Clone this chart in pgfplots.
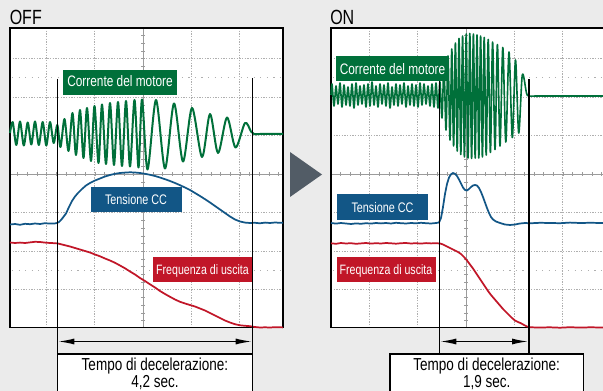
\documentclass[border=0pt]{standalone}
\usepackage{fontspec}
\setmainfont{Liberation Sans}[FakeStretch=0.78]
\usepackage{pgfplots}
\pgfplotsset{compat=1.18}
\usetikzlibrary{arrows.meta}
\definecolor{bg}{RGB}{235,235,235}
\definecolor{mgreen}{RGB}{0,112,58}
\definecolor{mblue}{RGB}{18,86,134}
\definecolor{mred}{RGB}{193,22,40}
\definecolor{gridc}{RGB}{175,175,175}
\definecolor{axc}{RGB}{155,155,155}
\definecolor{arrowc}{RGB}{82,92,102}
\tikzset{
  gridline/.style={gridc, line width=0.6pt, dash pattern=on 0.9pt off 1.1pt},
  sparseline/.style={gridc, line width=0.7pt, dash pattern=on 0.9pt off 4pt},
  centerline/.style={axc, line width=0.7pt},
  hticks/.style={axc, line width=3pt, dash pattern=on 0.6pt off 6.645pt},
  vticks/.style={axc, line width=3pt, dash pattern=on 0.6pt off 5.175pt},
  lbl/.style={anchor=base, text=white, inner sep=0pt},
  dbl/.style={{Latex[length=12pt,width=4.5pt]}-{Latex[length=12pt,width=4.5pt]}, line width=1pt},
}
\begin{document}
\begin{tikzpicture}
\begin{axis}[
  x=0.75pt, y=0.75pt, y dir=reverse,
  xmin=0, xmax=603, ymin=0, ymax=391,
  hide axis, clip=true,
]
% background and panels
\fill[bg] (axis cs:0,0) rectangle (axis cs:603,391);
\fill[white] (axis cs:10,28) rectangle (axis cs:283,327.5);
\fill[white] (axis cs:331,28) rectangle (axis cs:603,327.5);
% grid OFF
\pgfplotsinvokeforeach{46.4,94.7,191.3,239.6}{\draw[gridline] (axis cs:#1,28) -- (axis cs:#1,327.5);}
\pgfplotsinvokeforeach{58.5,97,135.5,212.5,251,289.5}{\draw[gridline] (axis cs:10,#1) -- (axis cs:283,#1);}
\pgfplotsinvokeforeach{77.75,270.25}{\draw[sparseline] (axis cs:12,#1) -- (axis cs:283,#1);}
\draw[centerline] (axis cs:143,28) -- (axis cs:143,327.5);
\draw[centerline] (axis cs:10,174) -- (axis cs:283,174);
\draw[hticks] (axis cs:17.42,174) -- (axis cs:283,174);
\draw[vticks] (axis cs:143,35.4) -- (axis cs:143,327.5);
% grid ON
\pgfplotsinvokeforeach{369.4,417.7,514.3,562.6}{\draw[gridline] (axis cs:#1,28) -- (axis cs:#1,327.5);}
\pgfplotsinvokeforeach{58.5,97,135.5,212.5,251,289.5}{\draw[gridline] (axis cs:331,#1) -- (axis cs:603,#1);}
\pgfplotsinvokeforeach{77.75,270.25}{\draw[sparseline] (axis cs:333,#1) -- (axis cs:603,#1);}
\draw[centerline] (axis cs:466,28) -- (axis cs:466,327.5);
\draw[centerline] (axis cs:331,174) -- (axis cs:603,174);
\draw[hticks] (axis cs:340.4,174) -- (axis cs:603,174);
\draw[vticks] (axis cs:466,35.4) -- (axis cs:466,327.5);
% frames
\draw[black, line width=1pt] (axis cs:10,28) rectangle (axis cs:283,327.5);
\draw[black, line width=1pt] (axis cs:603,28) -- (axis cs:331,28) -- (axis cs:331,327.5) -- (axis cs:603,327.5);

% ===== OFF signals =====
\addplot[mgreen, line width=1.5pt, smooth, tension=0.5, line join=round] coordinates {
(10,133) (12.7,122) (16.3,145) (20,121.5) (23.8,145.5) (27.7,122.5) (31.3,144.5) (35,121.5)
(38.8,145) (42.7,122) (46.3,145.5) (50,122) (53.7,143) (57.3,125) (60.5,147) (64.5,119)
(68.5,151) (72.5,113) (76,155) (80,110) (83.5,158) (87,108) (91,161) (94.5,106)
(98.5,163) (102,104.5) (106,164) (110,103) (114,165) (118,102) (122,166) (126,101)
(130,166.5) (134.5,100) (138.5,167.5) (142,99.5) (147.5,169.5) (156,100) (165,168.5)
(174,103.5) (183,161.5) (192,108) (202,157) (210,114) (218,153) (227,117.5) (235.5,147.5)
(245,123) (251,131.5) (254,134) (260,134) (283,134)
};
\addplot[mblue, line width=1.3pt, line join=round] coordinates {
(10,224.5) (15,224) (20,224.8) (25,223.8) (30,224.2) (35,223.5) (40,224) (45,223.2)
(50,223.6) (55,223.4) (57,223) (59,222) (61,220) (63,217.5) (66,213.5) (69,207) (72,201)
(75,196.5) (78,193) (82,189) (86,185.5) (90,183) (95,180.5) (100,178.5) (105,176.5)
(110,175) (115,173.8) (120,173) (125,172.6) (130,172.3) (135,172.5) (140,173) (145,173.8)
(150,174.8) (155,176) (160,177.5) (165,179.2) (170,181) (175,183) (180,185.2) (185,187.5)
(190,190) (195,193) (200,196) (205,199.2) (210,202.5) (215,206) (220,209.5) (225,213)
(230,216.5) (235,219.5) (240,221.5) (245,222.6) (250,223) (255,222.8) (260,223.3)
(265,222.6) (270,223) (275,222.5) (280,222.8) (283,222.7)
};
\addplot[mred, line width=1.3pt, line join=round] coordinates {
(10,242.5) (15,243) (20,242.6) (25,243) (30,242.4) (35,241.8) (40,242) (45,242.6)
(50,243) (55,243.2) (58,243.5) (62,244.5) (66,245.5) (70,246.5) (75,248) (80,249.5)
(85,251) (90,252.5) (95,254.5) (100,256.3) (105,258.5) (110,260.5) (115,262.8)
(120,265.5) (125,268.3) (130,271.5) (135,274.5) (140,278) (145,281) (150,284.3)
(155,287.5) (160,291) (165,294) (170,296.8) (175,299.5) (180,301.8) (185,303.5)
(190,305) (195,306.5) (200,308.5) (205,310.5) (210,313) (215,315.5) (220,318)
(225,320.5) (230,322.5) (235,324.2) (240,325.3) (245,325.8) (250,326.2) (255,327)
(260,327.5) (265,327.3) (270,327.5) (275,327.2) (283,327.4)
};

% ===== ON signals =====
\addplot[mgreen, line width=1.2pt, smooth, tension=0.5, line join=round] coordinates {
(331,95) (332,84) (334,106) (336,86) (338,104) (340,83) (342,107) (344,85) (346,105)
(348,87) (350,106) (352,84) (354,108) (356,83) (358,105) (360,86) (362,104) (364,85)
(366,107) (368,84) (370,106) (372,82) (374,105) (376,86) (378,107) (380,84) (382,104)
(384,85) (386,106) (388,83) (390,108) (392,87) (394,105) (396,84) (398,106) (400,85)
(402,104) (404,83) (406,107) (408,86) (410,105) (412,84) (414,106) (416,85) (418,107)
(420,83) (422,105) (424,84) (426,104) (428,86) (430,106) (432,84) (434,107) (436,83)
(438,108) (440,82) (442,118) (444,66) (446,130) (448,56) (450,140) (451.8,49)
(453.6,146) (455.4,43) (457.2,151) (459,38.5) (460.8,154.5) (462.6,36) (464.4,157)
(466.2,34) (468,158) (469.8,33.5) (471.6,158.5) (473.4,34) (475.2,158) (477,35)
(478.8,158) (480.6,36) (482.4,157) (484.2,37.5) (486.2,155) (488.2,39.5) (490.4,152.5)
(492.6,42) (495,149.5) (497.4,44.5) (500,146) (502.8,47.5) (505.8,142) (509,52)
(512.3,137.5) (515.5,60) (518.7,133) (522.3,75) (526.5,93) (529,96) (540,96) (603,96)
};
\addplot[mblue, line width=1.3pt, line join=round] coordinates {
(331,223) (336,223.6) (341,223) (346,223.5) (351,224) (356,223.4) (361,223.8) (366,223.2)
(371,223.6) (376,223) (381,223.4) (386,223) (391,223.5) (396,222.8) (401,223.2)
(406,223.5) (411,223) (416,223.3) (421,222.8) (426,223.2) (431,223.5) (436,223)
(439,222.5) (441,218) (443,207) (445,194) (447,184) (449,177.5) (451,174.3) (453,173)
(455,173.8) (457,176) (459,179.5) (461,183.5) (463,187.5) (465,190) (467,190.5)
(469,189) (471,187) (473,185.5) (475,185) (477,185.5) (479,188) (481,192) (483,197)
(485,202.5) (487,208) (489,213) (491,217) (493,219.5) (496,221.5) (500,223) (505,224.5)
(510,225) (515,224.5) (520,223.5) (525,223) (530,223.3) (540,222.8) (550,223)
(560,223.2) (570,222.6) (580,223) (590,222.8) (603,223)
};
\addplot[mred, line width=1.3pt, line join=round] coordinates {
(331,243.3) (336,243.8) (341,243) (346,243.5) (351,243.2) (356,243.8) (361,243.4)
(366,243) (371,243.6) (376,243.2) (381,243.5) (386,243) (391,243.3) (396,243.7)
(401,243.2) (406,243) (411,243.5) (416,243.2) (421,243.6) (426,243.1) (431,243.4)
(436,243.2) (440,243.5) (443,244.5) (446,246) (449,247.5) (452,249) (455,250.5)
(458,252) (461,254) (464,257) (467,260.5) (470,264.5) (473,268.5) (476,273) (479,277.5)
(482,282) (485,286.5) (488,291) (491,295) (494,298.5) (497,302) (500,305.5) (503,309)
(506,312) (509,315) (512,318) (515,320.5) (518,322) (521,323.3) (524,325) (527,326.5)
(530,327.3) (540,327.5) (550,327.3) (560,327.7) (570,327.2) (580,327.6) (590,327.3)
(603,327.5)
};

% markers
\draw[black, line width=1pt] (axis cs:57.3,79) -- (axis cs:57.3,354);
\draw[black, line width=1pt] (axis cs:252.7,78) -- (axis cs:252.7,354);
\draw[black, line width=1pt] (axis cs:439.3,79) -- (axis cs:439.3,354);
\draw[black, line width=1pt] (axis cs:529,79) -- (axis cs:529,354);

% label boxes OFF
\fill[mgreen] (axis cs:63,70) rectangle (axis cs:177,95);
\node[lbl, font=\fontsize{11.4}{12}\selectfont] at (axis cs:120,86.7) {Corrente del motore};
\fill[mblue] (axis cs:91,187) rectangle (axis cs:182,212);
\node[lbl, font=\fontsize{10.4}{12}\selectfont] at (axis cs:136,205) {Tensione CC};
\fill[mred] (axis cs:153,257) rectangle (axis cs:252,282);
\node[lbl, font=\fontsize{10.2}{12}\selectfont] at (axis cs:202.5,274.3) {Frequenza di uscita};
% label boxes ON
\fill[mgreen] (axis cs:336,56) rectangle (axis cs:449,81);
\node[lbl, font=\fontsize{11.4}{12}\selectfont] at (axis cs:392.5,74.3) {Corrente del motore};
\fill[mblue] (axis cs:337,194.5) rectangle (axis cs:428,220.5);
\node[lbl, font=\fontsize{10.4}{12}\selectfont] at (axis cs:382.5,213) {Tensione CC};
\fill[mred] (axis cs:337,257.3) rectangle (axis cs:436,281.7);
\node[lbl, font=\fontsize{10.2}{12}\selectfont] at (axis cs:386,274.3) {Frequenza di uscita};

% arrows
\draw[dbl] (axis cs:58.3,341.5) -- (axis cs:251.7,341.5);
\draw[dbl] (axis cs:440.3,341.5) -- (axis cs:528,341.5);

% bottom boxes
\fill[white] (axis cs:57.3,354) rectangle (axis cs:252.7,391);
\draw[black, line width=1pt] (axis cs:57.3,392) -- (axis cs:57.3,354) -- (axis cs:252.7,354) -- (axis cs:252.7,392);
\node[anchor=base, inner sep=0pt, font=\fontsize{13}{14}\selectfont] at (axis cs:155,370.3) {Tempo di decelerazione:};
\node[anchor=base, inner sep=0pt, font=\fontsize{13}{14}\selectfont] at (axis cs:155,387.5) {4,2 sec.};
\fill[white] (axis cs:390,354) rectangle (axis cs:583.3,391);
\draw[black, line width=1pt] (axis cs:390,392) -- (axis cs:390,354) -- (axis cs:583.3,354) -- (axis cs:583.3,392);
\node[anchor=base, inner sep=0pt, font=\fontsize{13}{14}\selectfont] at (axis cs:486.7,370.3) {Tempo di decelerazione:};
\node[anchor=base, inner sep=0pt, font=\fontsize{13}{14}\selectfont] at (axis cs:486.7,387.5) {1,9 sec.};

% titles
\node[anchor=base west, inner sep=0pt, font=\fontsize{15.4}{16}\selectfont] at (axis cs:9.5,25) {OFF};
\node[anchor=base west, inner sep=0pt, font=\fontsize{15.4}{16}\selectfont] at (axis cs:330,25) {ON};

% middle triangle
\fill[arrowc] (axis cs:290,152) -- (axis cs:322,174.5) -- (axis cs:290,197) -- cycle;
\end{axis}
\end{tikzpicture}
\end{document}
